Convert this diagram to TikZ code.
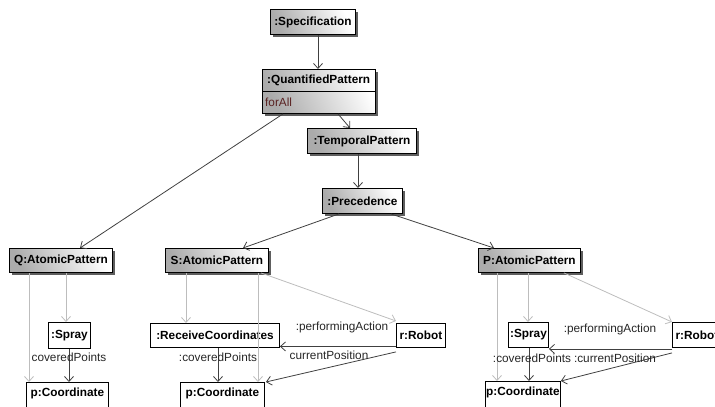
\documentclass[tikz,border=0pt]{standalone}
\usepackage{fontspec}
\setmainfont{Liberation Sans}
\usetikzlibrary{arrows.meta,calc,shadows}
\definecolor{edgedark}{HTML}{404040}
\definecolor{edgelight}{HTML}{BDBDBD}
\definecolor{attrcol}{HTML}{5A2222}
\definecolor{shadowcol}{HTML}{5E5E5E}
\begin{document}
\begin{tikzpicture}[x=1pt,y=-1pt,
  txt/.style={font=\fontsize{11.8}{13}\selectfont},
  obj/.style={draw=black, line width=0.9pt, inner sep=0pt, anchor=north west,
    font=\fontsize{11.8}{13}\selectfont\bfseries},
  shaded/.style={obj, top color=white, bottom color=black!33, shading angle=-65,
    drop shadow={shadow xshift=2.5pt, shadow yshift=-2.5pt, fill=shadowcol, opacity=1}},
  plain/.style={obj, fill=white},
  darkarrow/.style={draw=edgedark, line width=0.8pt, -{Straight Barb[length=5pt,width=9pt]}},
  lightarrow/.style={draw=edgelight, line width=0.8pt, -{Straight Barb[length=5pt,width=9pt]}},
  lbl/.style={txt, text=black!85, inner sep=0pt}]
\useasboundingbox (0,0) rectangle (715,407);
\clip (0,0) rectangle (715,407);

% ---- top chain ----
\node[shaded, minimum width=85pt, minimum height=25pt] (spec) at (270,9) {:Specification};
\node[shaded, minimum width=113pt, minimum height=44pt] (qp) at (262,69) {};
\draw[line width=0.9pt] (262,91) -- (375,91);
\node[txt, font=\fontsize{11.8}{13}\selectfont\bfseries, anchor=west, inner sep=0pt] (qptitle) at (267,80) {:QuantifiedPattern};
\node[txt, text=attrcol, anchor=west, inner sep=0pt] (qpattr) at (265,102) {forAll};
\node[shaded, minimum width=109pt, minimum height=25pt] (tp) at (307,128) {:TemporalPattern};
\node[shaded, minimum width=80pt, minimum height=25pt] (prec) at (322,188) {:Precedence};

% ---- atomic patterns ----
\node[shaded, minimum width=103pt, minimum height=24pt] (qap) at (9,248) {Q:AtomicPattern};
\node[shaded, minimum width=103pt, minimum height=24pt] (sap) at (165,248) {S:AtomicPattern};
\node[shaded, minimum width=102pt, minimum height=24pt] (pap) at (478,248) {P:AtomicPattern};

% ---- left group ----
\node[plain, minimum width=42pt, minimum height=26pt] (qspray) at (48,322) {:Spray};
\node[plain, minimum width=82pt, minimum height=30pt, text depth=11pt] (qpc) at (26,382) {p:Coordinate};

% ---- middle group ----
\node[plain, minimum width=129pt, minimum height=24pt] (recv) at (150,323) {:ReceiveCoordinates};
\node[plain, minimum width=49pt, minimum height=24pt] (srob) at (396,323) {r:Robot};
\node[plain, minimum width=84pt, minimum height=30pt, text depth=11pt] (spc) at (180,382) {p:Coordinate};

% ---- right group ----
\node[plain, minimum width=40pt, minimum height=25pt] (pspray) at (508,322) {:Spray};
\node[plain, minimum width=49pt, minimum height=25pt] (prob) at (672,322) {r:Robot};
\node[plain, minimum width=75pt, minimum height=30pt, text depth=11pt] (ppc) at (485,381) {p:Coordinate};

% ---- top connectors ----
\draw[darkarrow] (spec.south -| 318,0) -- (qp.north -| 318,0);
\draw[darkarrow] ([xshift=76pt]qp.south west) -- ([xshift=43pt]tp.north west);
\draw[darkarrow] (tp.south -| 358,0) -- (prec.north -| 358,0);
\draw[darkarrow] ([xshift=21pt]qp.south west) -- ([xshift=71pt]qap.north west);
\draw[darkarrow] ([xshift=17pt]prec.south west) -- ([xshift=78pt]sap.north west);
\draw[darkarrow] ([xshift=-12pt]prec.south east) -- ([xshift=16pt]pap.north west);

% ---- left group connectors ----
\draw[lightarrow] ([xshift=20pt]qap.south west) -- ([xshift=20pt]qap.south west |- qpc.north);
\draw[lightarrow] ([xshift=57pt]qap.south west) -- ([xshift=57pt]qap.south west |- qspray.north);
\draw[darkarrow] ([xshift=21pt]qspray.south west) -- ([xshift=21pt]qspray.south west |- qpc.north);
\node[lbl] (qcovl) at (69,357) {coveredPoints};

% ---- middle group connectors ----
\draw[lightarrow] ([xshift=21pt]sap.south west) -- ([xshift=21pt]sap.south west |- recv.north);
\draw[lightarrow] ([xshift=93pt]sap.south west) -- ([xshift=93pt]sap.south west |- spc.north);
\draw[lightarrow] ([xshift=-8pt]sap.south east) -- ([yshift=2pt]srob.north west);
\draw[darkarrow] ([yshift=-11pt]srob.west) -- ([yshift=-11pt]srob.west -| recv.east);
\draw[darkarrow] ([xshift=68pt]recv.south west) -- ([xshift=68pt]recv.south west |- spc.north);
\draw[darkarrow] ([yshift=-4pt]srob.south west) -- ([xshift=1pt]spc.north east);
\node[lbl] (sperf) at (342,327) {:performingAction};
\node[lbl] (scovl) at (218,357) {:coveredPoints};
\node[lbl] (spos) at (329,355) {currentPosition};

% ---- right group connectors ----
\draw[lightarrow] ([xshift=19pt]pap.south west) -- ([xshift=19pt]pap.south west |- ppc.north);
\draw[lightarrow] ([xshift=50pt]pap.south west) -- ([xshift=50pt]pap.south west |- pspray.north);
\draw[lightarrow] ([xshift=-17pt]pap.south east) -- (prob.north west);
\draw[darkarrow] ([yshift=-14pt]prob.west) -- ([yshift=-14pt]prob.west -| pspray.east);
\draw[darkarrow] ([xshift=21pt]pspray.south west) -- ([xshift=21pt]pspray.south west |- ppc.north);
\draw[darkarrow] ([yshift=-5pt]prob.south west) -- ([xshift=0pt]ppc.north east);
\node[lbl] (pperf) at (610,329) {:performingAction};
\node[lbl] (pcovl) at (532,358) {:coveredPoints};
\node[lbl] (ppos) at (615,358) {:currentPosition};
\end{tikzpicture}
\end{document}
